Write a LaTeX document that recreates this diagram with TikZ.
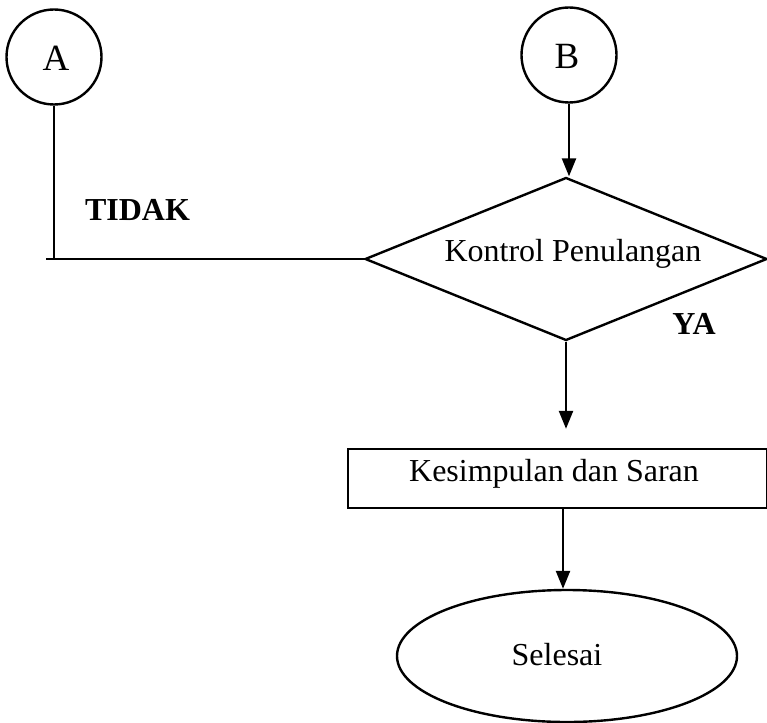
\documentclass[tikz,border=0pt]{standalone}
\usepackage{fontspec}
\setmainfont{Liberation Serif}
\usetikzlibrary{shapes.geometric,arrows.meta}
\begin{document}
\begin{tikzpicture}[x=1pt,y=-1pt,
  every node/.style={font=\fontsize{32}{38}\selectfont},
  big/.style={font=\fontsize{37}{42}\selectfont},
  shp/.style={draw, line width=2.4pt, inner sep=0pt},
  conn/.style={line width=2.4pt},
  arr/.style={conn, -{Triangle[length=18pt,width=14pt]}},
  lbl/.style={font=\fontsize{32}{38}\selectfont\bfseries}]
\useasboundingbox (0,0) rectangle (767,722);
\node[shp, circle, minimum size=95pt] (A) at (54,57) {};
\node[big] at (56,58) {A};
\node[shp, circle, minimum size=95pt] (B) at (569,55) {};
\node[big] at (567,56) {B};
\node[shp, diamond, minimum width=402pt, minimum height=163pt] (D) at (566,259) {};
\node (Dt) at (573,254) {Kontrol Penulangan};
\node[shp, rectangle, minimum width=419pt, minimum height=59pt] (R) at (557.5,478.5) {};
\node (Rt) at (554,474) {Kesimpulan dan Saran};
\node[shp, ellipse, minimum width=340pt, minimum height=132pt] (E) at (567,656) {};
\node (Et) at (557,655) {Selesai};
\node[lbl] (T) at (137.5,210) {TIDAK};
\node[lbl] (Y) at (694,324) {YA};
\coordinate (C) at ([xshift=-8pt]A.south |- D.west);
\draw[conn] (A.south) -- (A.south |- D.west);
\draw[conn] (C) -- (D.west);
\draw[arr] (B.south) -- (B.south |- D.north);
\draw[arr, shorten >=19pt] (D.south) -- (D.south |- R.north);
\draw[arr] ([xshift=-4pt]R.south -| E.north) -- ([xshift=-4pt]E.north);
\end{tikzpicture}
\end{document}
